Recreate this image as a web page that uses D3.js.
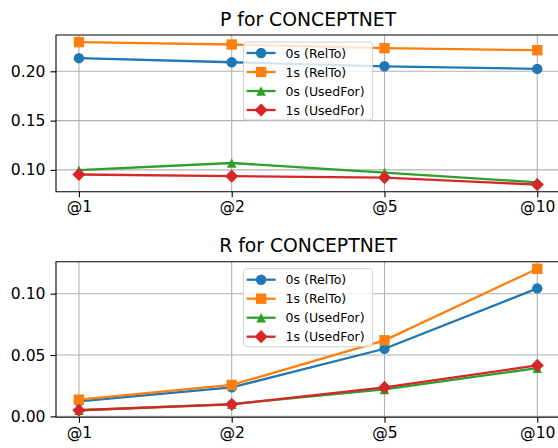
<!DOCTYPE html>
<html>
<head>
<meta charset="utf-8">
<script src="https://cdn.jsdelivr.net/npm/d3@7"></script>
<style>
  body { margin: 0; background: #fff; }
  svg { display: block; font-family: "DejaVu Sans", sans-serif; }
</style>
</head>
<body>
<svg id="chart" width="558" height="448"></svg>
<script>
// tick labels / categories
var ks = ["@1", "@2", "@5", "@10"];
var names = ["0s (RelTo)", "1s (RelTo)", "0s (UsedFor)", "1s (UsedFor)"];
var colors = ["#1f77b4", "#ff7f0e", "#2ca02c", "#d62728"];
var shapes = ["circle", "square", "triangle", "diamond"];

// precision
var p0sRel = [0.2133, 0.2092, 0.2051, 0.2024];
var p1sRel = [0.2296, 0.2272, 0.2235, 0.2214];
var p0sUsed = [0.0997, 0.1070, 0.0973, 0.0874];
var p1sUsed = [0.0953, 0.0936, 0.0922, 0.0851];

// recall
var r0sRel = [0.0122, 0.0236, 0.0551, 0.1043];
var r1sRel = [0.0136, 0.0256, 0.0620, 0.1203];
var r0sUsed = [0.0050, 0.0100, 0.0220, 0.0393];
var r1sUsed = [0.0050, 0.0098, 0.0236, 0.0415];

var pTicks = [0.10, 0.15, 0.20];
var rTicks = [0.00, 0.05, 0.10];

var svg = d3.select("#chart");

function marker(shape) {
  // matplotlib style marker paths
  if (shape == "circle") return d3.symbol(d3.symbolCircle, Math.PI * 5.2 * 5.2)();
  if (shape == "square") return "M-5.2,-5.2H5.2V5.2H-5.2Z";
  if (shape == "triangle") return "M0,-4.8L4.8,4.8L-4.8,4.8Z";
  return "M0,-6.6L6.6,0L0,6.6L-6.6,0Z";
}

function panel(title, series, ticks, top, bottom, titleY) {
  var left = 56, right = 560.2;
  var x = d3.scalePoint().domain(ks).range([left, right]).padding(0.15);

  var all = d3.merge(series);
  var lo = d3.min(all), hi = d3.max(all), pad = (hi - lo) * 0.05;
  var y = d3.scaleLinear().domain([lo - pad, hi + pad]).range([bottom, top]);

  var g = svg.append("g");

  // grid
  g.selectAll(".gx").data(ks).enter().append("line")
    .attr("x1", function (d) { return x(d); }).attr("x2", function (d) { return x(d); })
    .attr("y1", top).attr("y2", bottom)
    .attr("stroke", "#b0b0b0").attr("stroke-width", 1.1);
  g.selectAll(".gy").data(ticks).enter().append("line")
    .attr("x1", left).attr("x2", right)
    .attr("y1", function (d) { return y(d); }).attr("y2", function (d) { return y(d); })
    .attr("stroke", "#b0b0b0").attr("stroke-width", 1.1);

  // axes
  var ax = g.append("g").attr("transform", "translate(0," + bottom + ")")
    .call(d3.axisBottom(x).tickSize(5.5).tickPadding(4));
  var ay = g.append("g").attr("transform", "translate(" + left + ",0)")
    .call(d3.axisLeft(y).tickValues(ticks).tickFormat(d3.format(".2f")).tickSize(5.5).tickPadding(5));
  [ax, ay].forEach(function (a) {
    a.select(".domain").remove();
    a.selectAll("line").attr("stroke", "#000").attr("stroke-width", 1.1);
    a.selectAll("text").attr("font-size", "15.6px").attr("fill", "#000")
      .attr("font-family", "DejaVu Sans, sans-serif");
  });

  // lines and markers
  var line = d3.line().x(function (d, i) { return x(ks[i]); }).y(function (d) { return y(d); });
  series.forEach(function (s, j) {
    g.append("path").datum(s).attr("d", line)
      .attr("fill", "none").attr("stroke", colors[j]).attr("stroke-width", 2.3);
    g.selectAll(".m" + j).data(s).enter().append("path")
      .attr("d", marker(shapes[j]))
      .attr("transform", function (d, i) { return "translate(" + x(ks[i]) + "," + y(d) + ")"; })
      .attr("fill", colors[j]);
  });

  // spines
  g.append("path")
    .attr("d", "M" + right + "," + top + "H" + left + "V" + bottom + "H" + right + "V" + top)
    .attr("fill", "none").attr("stroke", "#000").attr("stroke-width", 1.1);

  // title
  svg.append("text").attr("x", (left + right) / 2).attr("y", titleY)
    .attr("text-anchor", "middle").attr("font-size", "18.8px").text(title);

  // legend, upper center
  var lw = 129, lh = 78, lx = (left + right) / 2 - lw / 2, ly = top + 7;
  var lg = g.append("g").attr("transform", "translate(" + lx + "," + ly + ")");
  lg.append("rect").attr("width", lw).attr("height", lh).attr("rx", 3)
    .attr("fill", "#fff").attr("fill-opacity", 0.8)
    .attr("stroke", "#d0d0d0").attr("stroke-width", 1);
  names.forEach(function (n, j) {
    var ry = 11 + j * 19;
    lg.append("line").attr("x1", 3).attr("x2", 32).attr("y1", ry).attr("y2", ry)
      .attr("stroke", colors[j]).attr("stroke-width", 2.3);
    lg.append("path").attr("d", marker(shapes[j]))
      .attr("transform", "translate(17.5," + ry + ")").attr("fill", colors[j]);
    lg.append("text").attr("x", 42).attr("y", ry + 4.5)
      .attr("font-size", "12.5px").text(n);
  });
}

panel("P for CONCEPTNET", [p0sRel, p1sRel, p0sUsed, p1sUsed], pTicks, 35, 191.7, 26);
panel("R for CONCEPTNET", [r0sRel, r1sRel, r0sUsed, r1sUsed], rTicks, 261.7, 417.3, 252);
</script>
</body>
</html>
